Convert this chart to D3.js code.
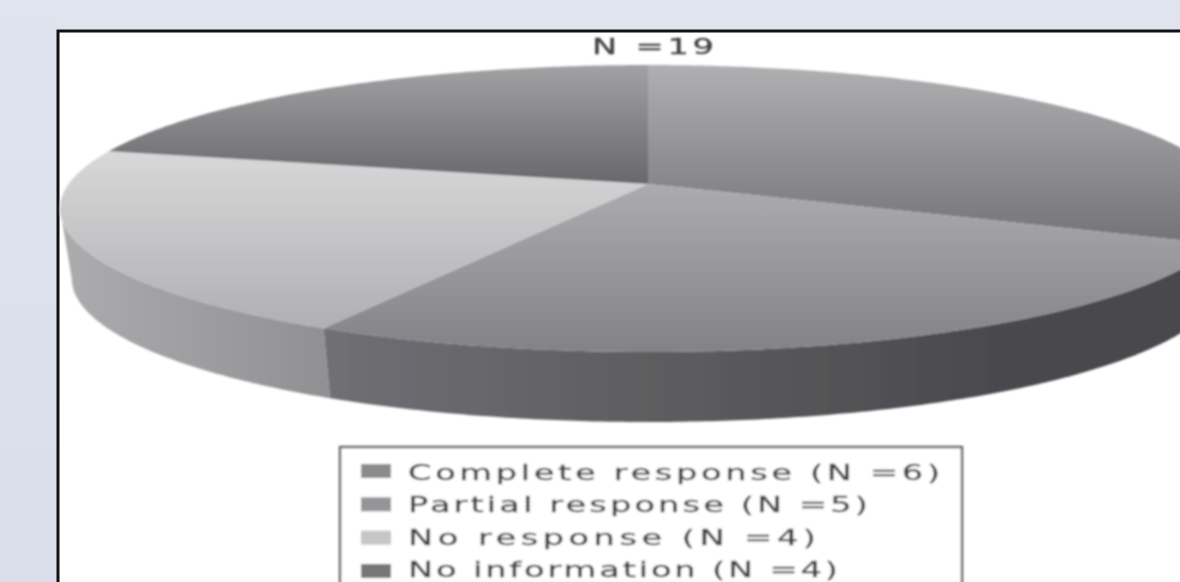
<!DOCTYPE html>
<html><head><meta charset="utf-8">
<script src="https://cdn.jsdelivr.net/npm/d3@7/dist/d3.min.js"></script>
<style>html,body{margin:0;padding:0;background:#e0e4ee;overflow:hidden}svg{display:block}</style>
</head><body><svg id="c" width="1180" height="582"></svg>
<script>
const title = "N =19";
const categories = ["Complete response (N =6)","Partial response (N =5)","No response (N =4)","No information (N =4)"];
const values = [6,5,4,4];
const labelWidths = [532,460,408,430];
const faceStops = [["#b0b0b3","#737377"],["#acacaf","#838387"],["#d8d8d9","#b0b0b3"],["#a2a2a5","#68686c"]];
const sideStops = [["#4a4a4d","#4a4a4d"],["#707074","#4a4a4d"],["#acacae","#919194"],["#555555","#555555"]];
const swatches = ["#8b8b8e","#959598","#c6c6c8","#77777a"];

const W=1180,H=582;
const svg=d3.select("#c");
const defs=svg.append("defs");
defs.append("filter").attr("id","soft").append("feGaussianBlur").attr("stdDeviation",0.8);
const bg=defs.append("linearGradient").attr("id","bg").attr("x1",0).attr("x2",0).attr("y1",0).attr("y2",1);
bg.append("stop").attr("offset",0).attr("stop-color","#e0e4ee");
bg.append("stop").attr("offset",1).attr("stop-color","#d9dee9");
svg.append("rect").attr("width",W).attr("height",H).attr("fill","#e0e4ee");
svg.append("rect").attr("width",57).attr("height",H).attr("fill","url(#bg)");
svg.append("rect").attr("x",58).attr("y",31).attr("width",W).attr("height",H).attr("fill","#fff").attr("stroke","#111").attr("stroke-width",3);

// Projective view of a flat disc: the apex is the circle's centre.
const cx=648, apexY=184, topY=65, botY=352, edgeX=60, depth=70, shrink=0.98;
const persp=(function(){ // Y=(a v+b)/(p v+1) through v=-1,0,1
  const b=apexY;
  const p=(topY+botY-2*b)/(topY-botY);
  const a=botY*(1+p)-b;
  const A=(cx-edgeX)*Math.sqrt(1-p*p);
  return {a,b,p,A};
})();
function project(t){
  const u=Math.sin(t), v=-Math.cos(t), w=1+persp.p*v;
  return [cx+persp.A*u/w,(persp.a*v+persp.b)/w];
}
const lower=t=>{const q=project(t);return [cx+(q[0]-cx)*shrink,q[1]+depth];};

// angles of the outline's right and left extremes bound the visible wall
const sampled=d3.range(0,2*Math.PI,0.002);
const tRight=d3.greatest(sampled,t=>project(t)[0]);
const tLeft=d3.least(sampled,t=>project(t)[0]);

const arcs=d3.pie().sort(null)(values);
const line=d3.line();
function rim(a0,a1,f){
  const n=Math.max(2,Math.ceil((a1-a0)/0.01));
  return d3.range(n+1).map(i=>f(a0+(a1-a0)*i/n));
}
function grad(id,stops,x1,y1,x2,y2){
  const g=defs.append("linearGradient").attr("id",id).attr("gradientUnits","userSpaceOnUse")
    .attr("x1",x1).attr("y1",y1).attr("x2",x2).attr("y2",y2);
  g.append("stop").attr("offset",0).attr("stop-color",stops[0]);
  g.append("stop").attr("offset",1).attr("stop-color",stops[1]);
}
const pie=svg.append("g").attr("filter","url(#soft)");
arcs.forEach((a,i)=>{
  const r=rim(a.startAngle,a.endAngle,project), xs=r.map(d=>d[0]), ys=r.concat([[cx,apexY]]).map(d=>d[1]);
  grad("side"+i,sideStops[i],Math.max(d3.min(xs),60),0,Math.min(d3.max(xs),1000),0);
  grad("face"+i,faceStops[i],0,d3.min(ys),0,d3.max(ys));
  a.rim=r;
  const s0=Math.max(a.startAngle,tRight), s1=Math.min(a.endAngle,tLeft);
  if(s1>s0){
    const top=rim(s0,s1,project), low=rim(s0,s1,lower);
    pie.append("path").attr("d",line(top.concat(low.reverse()))+"Z").attr("fill",`url(#side${i})`);
  }
});
arcs.forEach((a,i)=>{
  pie.append("path").attr("d",line([[cx,apexY]].concat(a.rim))+"Z").attr("fill",`url(#face${i})`);
});

const fnt="'DejaVu Sans',sans-serif", sx=1.6;
function stretched(g,x,y,width,str){
  g.append("text").attr("transform",`translate(${x},${y}) scale(${sx},1)`)
    .attr("font-family",fnt).attr("font-size",21).attr("fill","#404040")
    .attr("stroke","#404040").attr("stroke-width",0.3)
    .attr("textLength",width/sx).attr("lengthAdjust","spacing").text(str);
}
stretched(svg.append("g").attr("filter","url(#soft)"),592,54,122,title);

const rowY=d3.scalePoint().domain(categories).range([480,577]);
const lg=svg.append("g").attr("filter","url(#soft)");
lg.append("rect").attr("x",340).attr("y",447).attr("width",622).attr("height",H).attr("fill","#fff").attr("stroke","#666").attr("stroke-width",2.5);
categories.forEach((name,i)=>{
  const y=rowY(name);
  lg.append("rect").attr("x",361).attr("y",y-16+i).attr("width",30).attr("height",14).attr("fill",swatches[i]);
  stretched(lg,408,y,labelWidths[i],name);
});
</script></body></html>
